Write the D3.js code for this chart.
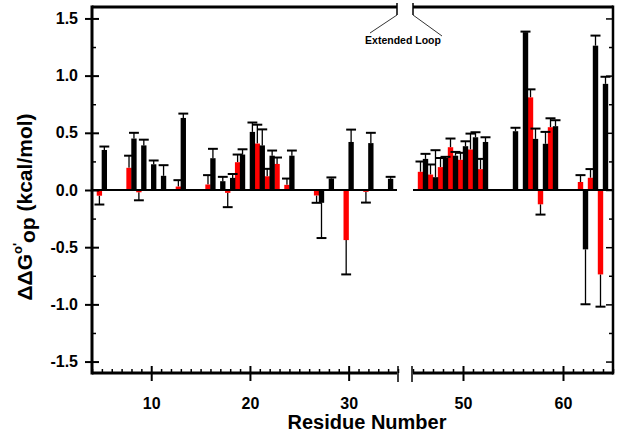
<!DOCTYPE html>
<html><head><meta charset="utf-8">
<script src="https://cdn.jsdelivr.net/npm/d3@7"></script>
<style>body{margin:0;background:#fff}svg{display:block}text{font-family:"Liberation Sans",Arial,sans-serif;font-weight:bold}</style>
</head><body><svg id="c" width="617" height="433"></svg>
<script>
// residue numbers, values and upper/lower error magnitudes
const redResidues = [5,8,9,13,16,18,19,21,22,23,24,27,30,32,46,47,48,49,50,51,52,57,58,59,62,63,64];
const redValues   = [-0.05,0.194,-0.02,0.03,0.048,-0.025,0.243,0.406,0.12,0.228,0.045,-0.048,-0.438,-0.016,0.159,0.135,0.2,0.374,0.264,0.354,0.182,0.81,-0.125,0.549,0.07,0.107,-0.738];
const redErrors   = [0.077,0.106,0.07,0.056,0.082,0.125,0.067,0.165,0.065,0.056,0.055,0.064,0.30,0.094,0.09,0.088,0.08,0.076,0.061,0.139,0.09,0.07,0.09,0.078,0.06,0.076,0.282];
const blackResidues = [5,8,9,10,11,13,16,17,18,19,20,21,22,24,27,28,30,32,34,46,47,48,49,50,51,52,55,56,57,58,59,62,63,64];
const blackValues   = [0.35,0.45,0.39,0.225,0.124,0.63,0.278,0.077,0.106,0.31,0.508,0.39,0.30,0.30,-0.112,0.1,0.42,0.41,0.098,0.272,0.112,0.28,0.30,0.383,0.461,0.42,0.514,1.38,0.447,0.404,0.558,-0.519,1.262,0.928];
const blackErrors   = [0.03,0.05,0.05,0.033,0.093,0.038,0.082,0.038,0.034,0.046,0.082,0.14,0.045,0.045,0.308,0.01,0.108,0.09,0.017,0.044,0.236,0.01,0.033,0.043,0.044,0.041,0.03,0.005,0.09,0.104,0.052,0.48,0.088,0.062];
const yTicks = [-1.5,-1.0,-0.5,0.0,0.5,1.0,1.5];
const xTicksLeft = [10,20,30];
const xTicksRight = [50,60];
const leftDomain = [4,35];
const rightDomain = [45,65];
const breakLabel = "Extended Loop";

const svg = d3.select("#c");
const L = 92, R = 613, T = 7, B = 373, breakL = 398, breakR = 413;
const y = d3.scaleLinear().domain([-1.6,1.6]).range([B,T]);
const xL = d3.scaleLinear().domain(leftDomain).range([L,breakL]);
const xR = d3.scaleLinear().domain(rightDomain).range([breakR,R]);
const xOf = r => r <= leftDomain[1] ? xL(r) : xR(r);

function series(res, vals, errs, color, offset){
  const d = res.map((r,i)=>({r, v:vals[i], e:errs[i]}));
  const g = svg.append("g");
  d.forEach(p=>{
    const cx = xOf(p.r + offset + 0.25);
    const tip = p.v >= 0 ? p.v + p.e : p.v - p.e;
    g.append("line").attr("x1",cx).attr("x2",cx).attr("y1",y(p.v)).attr("y2",y(tip))
      .attr("stroke","#000").attr("stroke-width",1.3);
    const hw = (xOf(p.r+0.5)-xOf(p.r));
    g.append("line").attr("x1",cx-hw).attr("x2",cx+hw).attr("y1",y(tip)).attr("y2",y(tip))
      .attr("stroke","#000").attr("stroke-width",2);
  });
  g.selectAll("rect").data(d).join("rect")
    .attr("x", p=>xOf(p.r+offset)-0.2)
    .attr("width", p=>xOf(p.r+offset+0.5)-xOf(p.r+offset)+0.4)
    .attr("y", p=>y(Math.max(0,p.v)))
    .attr("height", p=>Math.abs(y(p.v)-y(0)))
    .attr("fill", color);
}
series(redResidues, redValues, redErrors, "#ff0000", -0.5);
series(blackResidues, blackValues, blackErrors, "#000000", 0);

// zero line
[[L,breakL-1],[breakR,R]].forEach(([a,b])=>svg.append("line").attr("x1",a).attr("x2",b)
  .attr("y1",y(0)).attr("y2",y(0)).attr("stroke","#000").attr("stroke-width",2));

// frame
const frame = svg.append("g").attr("stroke","#000").attr("fill","none");
frame.append("line").attr("x1",L).attr("x2",L).attr("y1",T-1.5).attr("y2",B+1.5).attr("stroke-width",3);
frame.append("line").attr("x1",R).attr("x2",R).attr("y1",T-1.5).attr("y2",B+1.5).attr("stroke-width",2.5);
[[L,breakL-1],[breakR,R]].forEach(([a,b])=>{
  frame.append("line").attr("x1",a).attr("x2",b).attr("y1",T).attr("y2",T).attr("stroke-width",3);
  frame.append("line").attr("x1",a).attr("x2",b).attr("y1",B).attr("y2",B).attr("stroke-width",3);
});
// break marks
[breakL-1, breakR].forEach(x=>{
  frame.append("line").attr("x1",x).attr("x2",x).attr("y1",3).attr("y2",15).attr("stroke-width",1.5);
  frame.append("line").attr("x1",x+(x<405?1:-1)).attr("x2",x+(x<405?1:-1)).attr("y1",366).attr("y2",382).attr("stroke-width",1.5);
});
frame.append("line").attr("x1",breakL-1).attr("y1",15).attr("x2",370).attr("y2",33).attr("stroke-width",0.8);
frame.append("line").attr("x1",breakR).attr("y1",15).attr("x2",442).attr("y2",36).attr("stroke-width",0.8);
svg.append("text").attr("x",403).attr("y",44).attr("text-anchor","middle").attr("font-size",10.5).text(breakLabel);

// y axis left
const yMinor = d3.range(-1.5,1.51,0.25).map(v=>+v.toFixed(2));
const yl = svg.append("g").attr("transform",`translate(${L},0)`)
  .call(d3.axisLeft(y).tickValues(yTicks).tickSize(7).tickPadding(7).tickFormat(d=>d.toFixed(1)));
yl.select(".domain").remove();
yl.selectAll("line").attr("stroke-width",2).attr("x2",-7).attr("x1",7);
yl.selectAll("text").attr("font-size",16).attr("fill","#000");
svg.append("g").attr("transform",`translate(${L},0)`)
  .call(d3.axisRight(y).tickValues(yMinor.filter(v=>!yTicks.includes(v))).tickSize(4).tickFormat(""))
  .call(g=>{g.select(".domain").remove(); g.selectAll("line").attr("stroke-width",1.5);});
// right axis ticks inward
svg.append("g").attr("transform",`translate(${R},0)`)
  .call(d3.axisLeft(y).tickValues(yMinor).tickSize(5).tickFormat(""))
  .call(g=>{g.select(".domain").remove(); g.selectAll("line").attr("stroke-width",1.5)
     .attr("x2",d=>yTicks.includes(d)?-7:-4);});

// x axes
function xAxis(scale, majors, domain){
  const minors = d3.range(domain[0],domain[1]+1).filter(v=>!majors.includes(v));
  const g = svg.append("g").attr("transform",`translate(0,${B})`)
    .call(d3.axisBottom(scale).tickValues(majors).tickSize(8).tickPadding(17).tickFormat(d3.format("d")));
  g.select(".domain").remove();
  g.selectAll("line").attr("y1",-7).attr("stroke-width",2);
  g.selectAll("text").attr("font-size",16).attr("fill","#000");
  svg.append("g").attr("transform",`translate(0,${B})`)
    .call(d3.axisTop(scale).tickValues(minors).tickSize(4).tickFormat(""))
    .call(gg=>{gg.select(".domain").remove(); gg.selectAll("line").attr("stroke-width",1.5);});
}
xAxis(xL, xTicksLeft, leftDomain);
xAxis(xR, xTicksRight, rightDomain);

// titles
svg.append("text").attr("x",367).attr("y",429).attr("text-anchor","middle").attr("font-size",20).text("Residue Number");
const yt = svg.append("text").attr("transform","translate(32,207) rotate(-90)").attr("text-anchor","middle").attr("font-size",21);
yt.append("tspan").text("\u0394\u0394G");
yt.append("tspan").attr("font-size",13).attr("dy",-10).text("o'");
yt.append("tspan").attr("dy",13).text("op");
yt.append("tspan").attr("dy",-3).text(" (kcal/mol)");
</script></body></html>
